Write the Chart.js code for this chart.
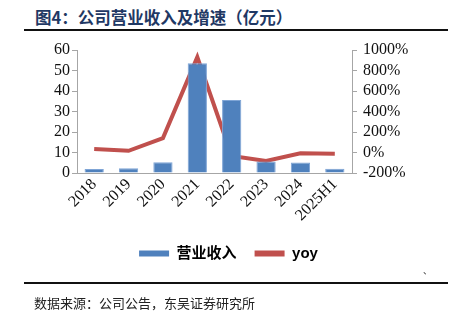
<!DOCTYPE html>
<html>
<head>
<meta charset="utf-8">
<script src="https://cdn.jsdelivr.net/npm/chart.js@4.4.1/dist/chart.umd.min.js"></script>
<style>
  body { margin: 0; background: #fff; }
  #wrap { position: relative; width: 457px; height: 323px; overflow: hidden; }
  #chart { position: absolute; left: 0; top: 0; }
  .title {
    position: absolute; left: 35px; top: 5px;
    font: bold 16.5px "Noto Sans CJK SC", sans-serif; color: #1f3864;
    white-space: nowrap;
  }
  .rule { position: absolute; left: 24px; width: 424px; background: #111; }
  .source {
    position: absolute; left: 34px; top: 293px;
    font: 13px "Noto Sans CJK SC", sans-serif; color: #222; white-space: nowrap;
  }
  .mark {
    position: absolute; left: 423px; top: 264px;
    font: 9px "Noto Sans CJK SC", sans-serif; color: #333;
  }
</style>
</head>
<body>
<div id="wrap">
  <div class="title">图4：公司营业收入及增速（亿元）</div>
  <div class="rule" style="top:29px;height:2px"></div>
  <canvas id="chart" width="457" height="323"></canvas>
  <div class="mark">、</div>
  <div class="rule" style="top:282px;height:2px"></div>
  <div class="source">数据来源：公司公告，东吴证券研究所</div>
</div>
<script>
// 年份
var years = ["2018", "2019", "2020", "2021", "2022", "2023", "2024", "2025H1"];
// 营业收入（亿元）
var revenue = [2.0, 2.3, 5.3, 53.5, 35.6, 5.6, 5.1, 2.1];
// 同比增速（%）
var yoy = [33, 17, 140, 930, -33, -83, -8, -13];

var tickFont = { family: "'Liberation Serif', 'Times New Roman', serif", size: 16 };
var axisColor = "#a6a6a6";

var ctx = document.getElementById("chart").getContext("2d");
var chart = new Chart(ctx, {
  type: "bar",
  data: {
    labels: years,
    datasets: [
      {
        label: "营业收入",
        data: revenue,
        backgroundColor: "#4f81bd",
        borderColor: "#7fa5d6",
        borderWidth: 1,
        barPercentage: 0.56,
        categoryPercentage: 1,
        order: 0,
        yAxisID: "y",
      },
      {
        type: "line",
        label: "yoy",
        data: yoy,
        borderColor: "#c0504d",
        backgroundColor: "#c0504d",
        borderWidth: 4,
        pointRadius: 0,
        tension: 0,
        order: 1,
        yAxisID: "y1",
      },
    ],
  },
  options: {
    responsive: false,
    animation: false,
    layout: { padding: { top: 50, left: 0, right: 0, bottom: 52 } },
    plugins: {
      tooltip: { enabled: false },
      legend: {
        position: "bottom",
        labels: {
          boxWidth: 30,
          boxHeight: 6,
          padding: 18,
          color: "#222",
          font: { family: "'Liberation Sans', 'Noto Sans CJK SC', sans-serif", size: 15, weight: "bold" },
          sort: function (a, b) { return a.datasetIndex - b.datasetIndex; },
          generateLabels: function (c) {
            return c.data.datasets.map(function (ds, i) {
              return {
                text: ds.label,
                fillStyle: ds.type === "line" ? ds.borderColor : ds.backgroundColor,
                strokeStyle: ds.type === "line" ? ds.borderColor : ds.backgroundColor,
                lineWidth: 0,
                datasetIndex: i,
              };
            });
          },
        },
      },
    },
    scales: {
      x: {
        grid: { display: false, drawTicks: false },
        border: { color: axisColor, width: 1 },
        ticks: { color: "#111", font: tickFont, maxRotation: 45, minRotation: 45, autoSkip: false, padding: 2 },
        afterFit: function (s) { s.height = 55; },
      },
      y: {
        position: "left",
        min: 0,
        max: 60,
        grid: { drawOnChartArea: false, tickLength: 5, color: axisColor },
        border: { color: axisColor },
        ticks: { stepSize: 10, autoSkip: false, color: "#111", font: tickFont, padding: 2 },
        afterFit: function (s) { s.width = 77; },
      },
      y1: {
        position: "right",
        min: -200,
        max: 1000,
        grid: { drawOnChartArea: false, tickLength: 5, color: axisColor },
        border: { color: axisColor },
        ticks: {
          stepSize: 200,
          autoSkip: false,
          color: "#111",
          font: tickFont,
          padding: 6,
          callback: function (v) { return v + "%"; },
        },
        afterFit: function (s) { s.width = 105; },
      },
    },
  },
});
</script>
</body>
</html>
